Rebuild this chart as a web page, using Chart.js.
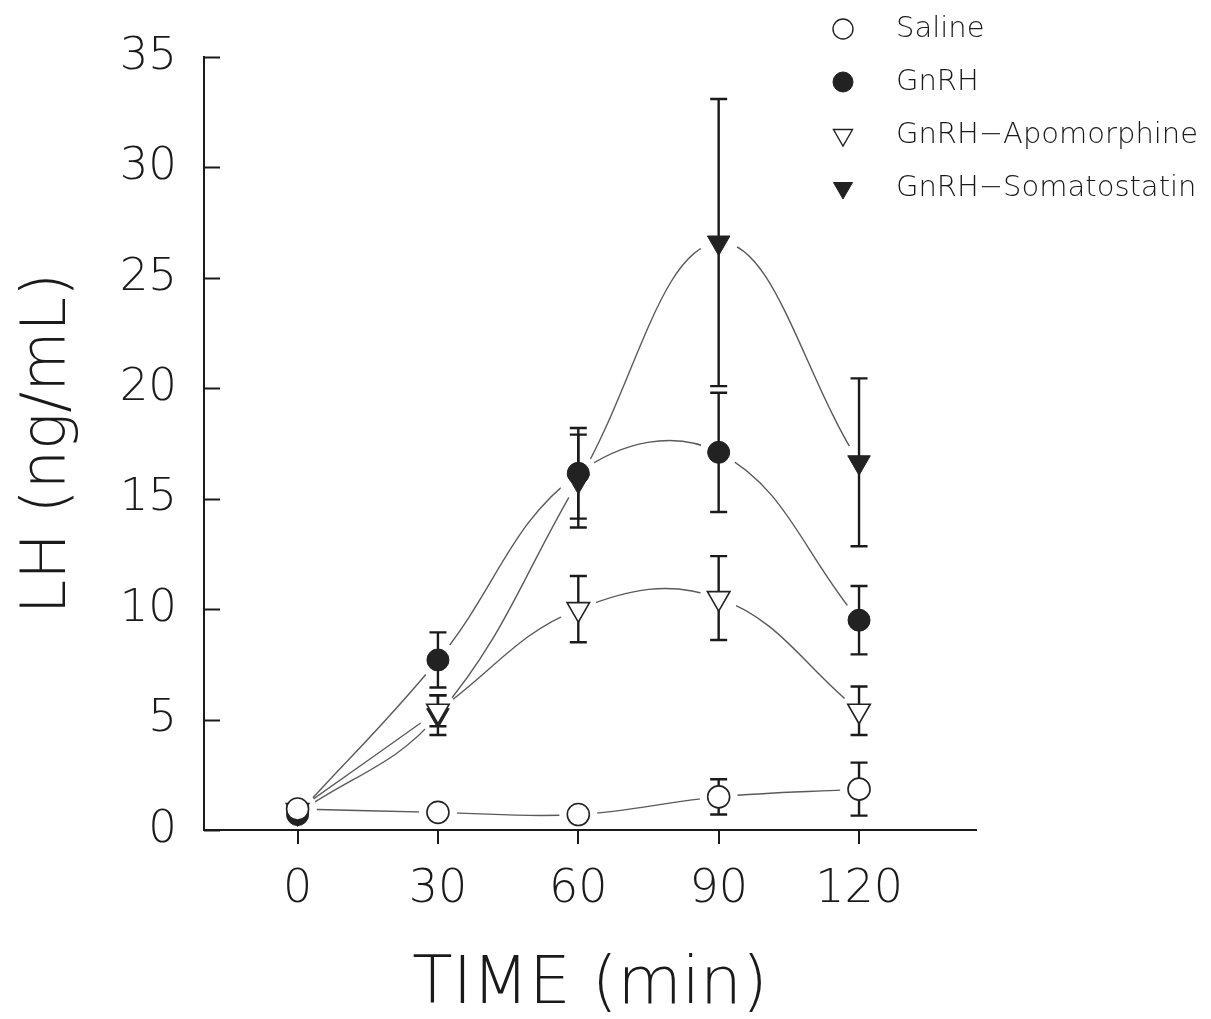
<!DOCTYPE html>
<html>
<head>
<meta charset="utf-8">
<script src="https://cdn.jsdelivr.net/npm/chart.js@4.4.1/dist/chart.umd.min.js"></script>
<style>
    html, body { margin: 0; padding: 0; background: #fff; }
    #wrap { width: 1211px; height: 1019px; }
</style>
</head>
<body>
<div id="wrap"><canvas id="chart"></canvas></div>
<script>
// values (LH, ng/mL, mean and SEM)
const timePoints = [0, 30, 60, 90, 120];
const yTickValues = [0, 5, 10, 15, 20, 25, 30, 35];

const salineMean = [0.95, 0.8, 0.7, 1.5, 1.85];
const salineErr = [0.2, 0.3, 0.3, 0.8, 1.2];
const gnrhMean = [0.7, 7.7, 16.15, 17.1, 9.5];
const gnrhErr = [0.2, 1.25, 2.05, 2.7, 1.55];
const apoMean = [0.9, 5.4, 10.0, 10.5, 5.4];
const apoErr = [0.2, 0.7, 1.5, 1.9, 1.1];
const somatoMean = [0.75, 5.2, 15.8, 26.6, 16.65];
const somatoErr = [0.2, 0.9, 2.1, 6.5, 3.8];

const FONT = "'DejaVu Sans', 'Liberation Sans', sans-serif";
const INK = "#1a1a1a";

const series = [
    { name: "Saline", mean: salineMean, err: salineErr, style: "circle", filled: false, r: 11 },
    { name: "GnRH", mean: gnrhMean, err: gnrhErr, style: "circle", filled: true, r: 11 },
    { name: "GnRH\u2212Apomorphine", mean: apoMean, err: apoErr, style: "triangle", filled: false, r: 13 },
    { name: "GnRH\u2212Somatostatin", mean: somatoMean, err: somatoErr, style: "triangle", filled: true, r: 13 },
];

const toPoints = (arr) => timePoints.map((t, i) => ({ x: t, y: arr[i] }));

const datasets = [];
series.forEach((s) => {
    // smooth connecting curve
    datasets.push({
        data: toPoints(s.mean),
        showLine: true,
        borderColor: "#5a5a5a",
        borderWidth: 1.4,
        tension: 0.4,
        pointRadius: 0,
        order: 3,
    });
});
series.forEach((s, i) => {
    // white halo so curves stop short of the symbols
    datasets.push({
        data: toPoints(s.mean),
        showLine: false,
        pointStyle: "circle",
        pointRadius: 19,
        pointBackgroundColor: "#fff",
        pointBorderWidth: 0,
        pointBorderColor: "#fff",
        clip: { left: 0, top: 0, right: 0, bottom: -2 },
        order: 2,
        barsAfter: i === 0,
    });
});
series.forEach((s) => {
    datasets.push({
        label: s.name,
        data: toPoints(s.mean),
        showLine: false,
        pointStyle: s.style,
        rotation: s.style === "triangle" ? 180 : 0,
        pointRadius: s.r,
        pointBackgroundColor: s.filled ? "#222" : "#fff",
        pointBorderColor: "#222",
        pointBorderWidth: s.filled ? 1 : 1.6,
        order: 1,
    });
});

const errorBars = {
    id: "errorBars",
    afterDatasetDraw(chart, args) {
        const ds = chart.data.datasets[args.index];
        if (!ds.barsAfter) return;
        const { ctx } = chart;
        const x = chart.scales.x, y = chart.scales.y;
        ctx.save();
        ctx.strokeStyle = INK;
        ctx.lineWidth = 2.4;
        series.forEach((s) => {
            timePoints.forEach((t, j) => {
                const px = x.getPixelForValue(t);
                const top = y.getPixelForValue(s.mean[j] + s.err[j]);
                const bot = y.getPixelForValue(s.mean[j] - s.err[j]);
                ctx.beginPath();
                ctx.moveTo(px, top); ctx.lineTo(px, bot);
                ctx.moveTo(px - 8.5, top); ctx.lineTo(px + 8.5, top);
                ctx.moveTo(px - 8.5, bot); ctx.lineTo(px + 8.5, bot);
                ctx.stroke();
            });
        });
        ctx.restore();
    },
};

// y ticks point inward, into the plot
const innerTicks = {
    id: "innerTicks",
    afterDraw(chart) {
        const { ctx } = chart;
        const y = chart.scales.y;
        ctx.save();
        ctx.strokeStyle = INK;
        ctx.lineWidth = 2;
        y.ticks.forEach((tk) => {
            const py = Math.round(y.getPixelForValue(tk.value)) + 0.5;
            ctx.beginPath();
            ctx.moveTo(y.right, py);
            ctx.lineTo(y.right + 16, py);
            ctx.stroke();
        });
        ctx.restore();
    },
};

function drawSymbol(ctx, s, cx, cy, r) {
    ctx.beginPath();
    if (s.style === "circle") {
        ctx.arc(cx, cy, r, 0, Math.PI * 2);
    } else {
        const h = r * 1.5, w = r * Math.sqrt(3);
        ctx.moveTo(cx - w / 2, cy - h / 3);
        ctx.lineTo(cx + w / 2, cy - h / 3);
        ctx.lineTo(cx, cy + (2 * h) / 3);
        ctx.closePath();
    }
    ctx.fillStyle = s.filled ? "#222" : "#fff";
    ctx.fill();
    ctx.strokeStyle = "#222";
    ctx.lineWidth = s.filled ? 1 : 1.4;
    ctx.stroke();
}

const cornerLegend = {
    id: "cornerLegend",
    afterDraw(chart) {
        const { ctx } = chart;
        ctx.save();
        ctx.font = "200 29px " + FONT;
        ctx.textBaseline = "middle";
        ctx.textAlign = "left";
        series.forEach((s, i) => {
            const cy = 29 + i * 53;
            drawSymbol(ctx, s, 843, cy, s.style === "circle" ? 10 : 11);
            ctx.fillStyle = INK;
            ctx.fillText(s.name, 896, cy);
        });
        ctx.restore();
    },
};

new Chart(document.getElementById("chart"), {
    type: "scatter",
    data: { datasets },
    options: {
        responsive: true,
        maintainAspectRatio: false,
        animation: false,
        events: [],
        layout: { padding: { left: 0, right: 235, top: 57, bottom: 0 } },
        plugins: {
            legend: { display: false },
            tooltip: { enabled: false },
        },
        scales: {
            x: {
                type: "linear",
                min: -20,
                max: 145,
                afterBuildTicks: (scale) => {
                    scale.ticks = timePoints.map((v) => ({ value: v }));
                },
                afterFit: (scale) => { scale.height = 189; },
                border: { display: true, color: INK, width: 2 },
                grid: { display: true, drawOnChartArea: false, drawTicks: true, tickLength: 14, color: INK, lineWidth: 2 },
                ticks: {
                    color: INK,
                    padding: 18,
                    font: { family: FONT, size: 46, weight: "200" },
                    maxRotation: 0,
                },
                title: {
                    display: true,
                    text: "TIME (min)",
                    color: INK,
                    font: { family: FONT, size: 66, weight: "200", lineHeight: 1 },
                    padding: { top: 0, bottom: 0 },
                },
            },
            y: {
                type: "linear",
                min: 0,
                max: 35,
                afterBuildTicks: (scale) => {
                    scale.ticks = yTickValues.map((v) => ({ value: v }));
                },
                afterFit: (scale) => { scale.width = 204; },
                border: { display: true, color: INK, width: 2 },
                grid: { display: false, drawTicks: false },
                ticks: {
                    color: INK,
                    padding: 27,
                    font: { family: FONT, size: 45, weight: "200" },
                },
                title: {
                    display: true,
                    text: "LH (ng/mL)",
                    color: INK,
                    font: { family: FONT, size: 62, weight: "200", lineHeight: 1 },
                    padding: { top: 18, bottom: 0 },
                },
            },
        },
    },
    plugins: [errorBars, innerTicks, cornerLegend],
});
</script>
</body>
</html>
